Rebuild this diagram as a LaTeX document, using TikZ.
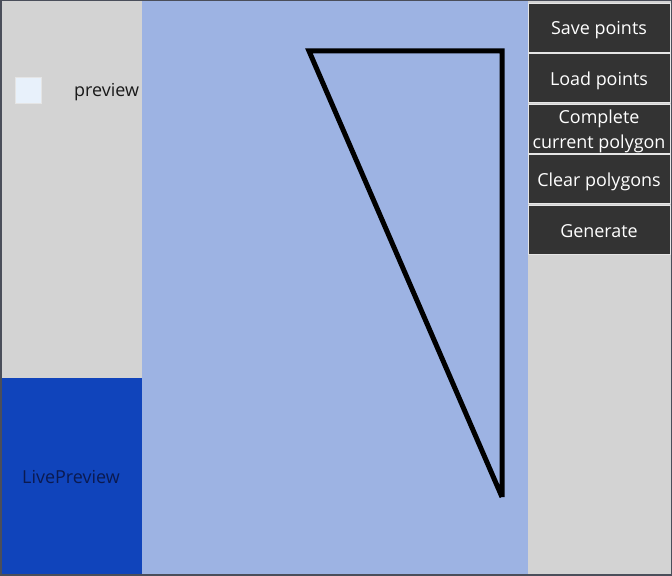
\documentclass[tikz,border=0pt]{standalone}
\usepackage{xcolor}
\usepackage{fontspec}
\setmainfont{Open Sans}
\usepackage{tikz}
\usetikzlibrary{positioning}
\definecolor{panelgray}{HTML}{D3D3D3}
\definecolor{canvasblue}{HTML}{9DB3E3}
\definecolor{liveblue}{HTML}{1044BB}
\definecolor{livetext}{HTML}{0B1A50}
\definecolor{btnfill}{HTML}{333333}
\definecolor{btnedge}{HTML}{E6E6E6}
\definecolor{frameedge}{HTML}{4A4E5A}
\definecolor{boxfill}{HTML}{E8F1FB}
\tikzset{
    panel/.style={rectangle, draw=none, inner sep=0pt, anchor=north west},
    button/.style={rectangle, draw=btnedge, fill=btnfill, text=white, minimum width=142bp, minimum height=49bp, inner sep=0pt, text height=19bp, text depth=4bp, align=center, font=\fontsize{18}{25}\selectfont},
    label/.style={text=black!90, inner sep=0pt, font=\fontsize{18}{22}\selectfont},
    polyline/.style={line width=5bp, line join=miter, draw=black}
}
\begin{document}
\begin{tikzpicture}[x=1bp, y=-1bp]
    \useasboundingbox (0,0) rectangle (672,576);
    % panels
    \node (canvas) [panel, fill=canvasblue, minimum width=386bp, minimum height=574bp] at (142,0) {};
    \node (side) [panel, fill=panelgray, minimum width=142bp, minimum height=378bp] at (0,0) {};
    \node (live) [panel, fill=liveblue, minimum width=142bp, minimum height=196bp] at (0,378) {};
    \node (tools) [panel, fill=panelgray, minimum width=144bp, minimum height=574bp] at (528,0) {};
    \draw[frameedge, line width=1.5bp] (0.75,0.75) rectangle (671.25,575.25);
    \draw[frameedge, line width=2bp] (0,574.5) -- (672,574.5);

    % left side
    \node (check) [rectangle, draw=black!10, fill=boxfill, minimum size=26bp, inner sep=0pt] at (28.5,90) {};
    \node (preview) [label, anchor=base west] at (74,96.5) {preview};
    \node (livelabel) [label, text=livetext, anchor=base] at (71,483) {LivePreview};

    % buttons
    \node (save) [button] at (599,27.5) {Save points};
    \node (load) [button, below=1bp of save] {Load points};
    \node (complete) [button, below=1bp of load, text height=44bp] {Complete\\current polygon};
    \node (clear) [button, below=1bp of complete] {Clear polygons};
    \node (generate) [button, below=2bp of clear] {Generate};

    % polygon
    \coordinate (p1) at (309,51);
    \coordinate (p2) at (502,51);
    \coordinate (p3) at (502,497);
    \draw[polyline] (p3) -- (p1) -- (p2) -- (p3);
\end{tikzpicture}
\end{document}
